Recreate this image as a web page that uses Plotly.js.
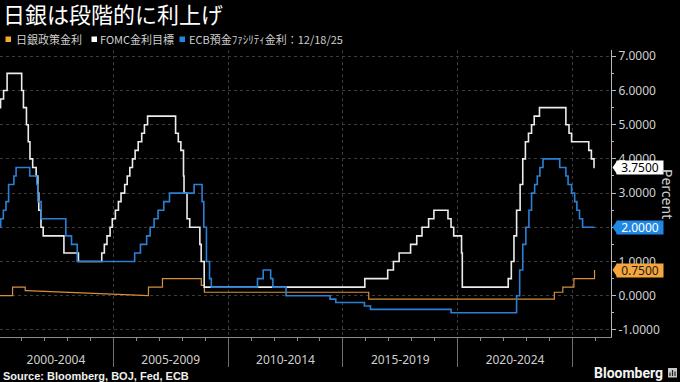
<!DOCTYPE html>
<html><head><meta charset="utf-8">
<script src="https://cdn.plot.ly/plotly-3.0.1.min.js"></script>
<style>html,body{margin:0;padding:0;background:#000;}#chart{width:680px;height:382px;}</style>
</head><body><div id="chart"></div>
<script>
// ---- data (policy rates, %, step changes) ----
const fedDates = ['2000-01-01','2000-02-02','2000-03-21','2000-05-16','2001-01-03','2001-01-31','2001-03-20','2001-04-18','2001-05-15','2001-06-27',
  '2001-08-21','2001-09-17','2001-10-02','2001-11-06','2001-12-11','2002-11-06','2003-06-25','2004-06-30','2004-08-10','2004-09-21',
  '2004-11-10','2004-12-14','2005-02-02','2005-03-22','2005-05-03','2005-06-30','2005-08-09','2005-09-20','2005-11-01','2005-12-13',
  '2006-01-31','2006-03-28','2006-05-10','2006-06-29','2007-09-18','2007-10-31','2007-12-11','2008-01-22','2008-01-30','2008-03-18',
  '2008-04-30','2008-10-08','2008-10-29','2008-12-16','2015-12-16','2016-12-14','2017-03-15','2017-06-14','2017-12-13','2018-03-21',
  '2018-06-13','2018-09-26','2018-12-19','2019-07-31','2019-09-18','2019-10-30','2020-03-03','2020-03-15','2022-03-16','2022-05-04',
  '2022-06-15','2022-07-27','2022-09-21','2022-11-02','2022-12-14','2023-02-01','2023-03-22','2023-05-03','2023-07-26','2024-09-18',
  '2024-11-07','2024-12-18','2025-09-17','2025-10-29','2025-12-10','2025-12-18'];
const fedRates = [5.5,5.75,6.0,6.5,6.0,5.5,5.0,4.5,4.0,3.75,
  3.5,3.0,2.5,2.0,1.75,1.25,1.0,1.25,1.5,1.75,
  2.0,2.25,2.5,2.75,3.0,3.25,3.5,3.75,4.0,4.25,
  4.5,4.75,5.0,5.25,4.75,4.5,4.25,3.5,3.0,2.25,
  2.0,1.5,1.0,0.25,0.5,0.75,1.0,1.25,1.5,1.75,
  2.0,2.25,2.5,2.25,2.0,1.75,1.25,0.25,0.5,1.0,
  1.75,2.5,3.25,4.0,4.5,4.75,5.0,5.25,5.5,5.0,
  4.75,4.5,4.25,4.0,3.75,3.75];

const ecbDates = ['2000-01-01','2000-02-04','2000-03-17','2000-04-28','2000-06-09','2000-09-01','2000-10-06','2001-05-11','2001-08-31','2001-09-18',
  '2001-11-09','2002-12-06','2003-03-07','2003-06-06','2005-12-06','2006-03-08','2006-06-15','2006-08-09','2006-10-11','2006-12-13',
  '2007-03-14','2007-06-13','2008-07-09','2008-11-12','2008-12-10','2009-01-21','2009-03-11','2009-04-08','2011-04-13','2011-07-13',
  '2011-11-09','2011-12-14','2012-07-11','2014-06-11','2014-09-10','2015-12-09','2016-03-16','2019-09-18','2022-07-27','2022-09-14',
  '2022-11-02','2022-12-21','2023-02-08','2023-03-22','2023-05-10','2023-06-21','2023-08-02','2023-09-20','2024-06-12','2024-09-18',
  '2024-10-23','2024-12-18','2025-02-05','2025-03-12','2025-04-23','2025-06-11','2025-12-18'];
const ecbRates = [2.0,2.25,2.5,2.75,3.25,3.5,3.75,3.5,3.25,2.75,
  2.25,1.75,1.5,1.0,1.25,1.5,1.75,2.0,2.25,2.5,
  2.75,3.0,3.25,2.75,2.0,1.0,0.5,0.25,0.5,0.75,
  0.5,0.25,0.0,-0.1,-0.2,-0.3,-0.4,-0.5,0.0,0.75,
  1.5,2.0,2.5,3.0,3.25,3.5,3.75,4.0,3.75,3.5,
  3.25,3.0,2.75,2.5,2.25,2.0,2.0];

const bojDates = ['2000-01-01','2000-08-11','2001-02-28','2001-03-19','2006-07-13','2006-07-14','2007-02-21','2008-10-31','2008-12-19','2016-02-16',
  '2024-03-19','2024-07-31','2025-01-24','2025-12-18'];
const bojRates = [0.0,0.25,0.15,0.15,0.0,0.25,0.5,0.3,0.1,-0.1,
  0.1,0.25,0.5,0.75];
const bojNoDataAfter = ['2001-03-19'];   // series has no observations until next point (drawn joined)

const seriesNames = ['日銀政策金利','FOMC金利目標','ECB預金ﾌｧｼﾘﾃｨ金利：12/18/25'];
const periodLabels = ['2000-2004','2005-2009','2010-2014','2015-2019','2020-2024'];
const periodMids = ['2002-07-02','2007-07-02','2012-07-02','2017-07-02','2022-07-02'];
const periodBounds = ['2005-01-01','2010-01-01','2015-01-01','2020-01-01','2025-01-01'];
const yTicks = [-1,0,1,2,3,4,5,6,7];

// ---- styles ----
const C_BOJ = '#d88f3e', C_FED = '#ececec', C_ECB = '#2b80d6';
const BOX_BOJ = '#f5a63d', BOX_FED = '#ffffff', BOX_ECB = '#1f88e5';
const W = 611, TOP = 50, BOT = 337;
const px = v => v / W;
const py = v => (BOT - v) / (BOT - TOP);

function steps(dates, vals, joinAfter) {
  const x = [dates[0]], y = [vals[0]];
  for (let i = 1; i < dates.length; i++) {
    if (!joinAfter.includes(dates[i - 1])) { x.push(dates[i]); y.push(vals[i - 1]); }
    x.push(dates[i]); y.push(vals[i]);
  }
  return {x, y};
}
const bojLine = steps(bojDates, bojRates, bojNoDataAfter);

const yearTicks = [];
for (let yr = 2001; yr <= 2026; yr++) yearTicks.push(yr + '-01-01');

const xRange = ['2000-01-24', '2026-09-06'];
const yRange = [-1.208, 7.184];

const traces = [
  {x: bojLine.x, y: bojLine.y, mode: 'lines', line: {color: C_BOJ, width: 1.2, shape: 'linear'}, hoverinfo: 'skip', showlegend: false},
  {x: fedDates, y: fedRates, mode: 'lines', line: {color: C_FED, width: 1.6, shape: 'hv'}, hoverinfo: 'skip', showlegend: false},
  {x: ecbDates, y: ecbRates, mode: 'lines', line: {color: C_ECB, width: 1.6, shape: 'hv'}, hoverinfo: 'skip', showlegend: false},
  {x: [], y: [], xaxis: 'x2', yaxis: 'y', mode: 'lines', hoverinfo: 'skip', showlegend: false}
];

const lastVals = [
  {v: bojRates[bojRates.length - 1], bg: BOX_BOJ, fg: '#1a1a1a'},
  {v: fedRates[fedRates.length - 1], bg: BOX_FED, fg: '#000000'},
  {v: ecbRates[ecbRates.length - 1], bg: BOX_ECB, fg: '#ffffff'}
];
// a tick label that sits exactly under a last-value box is hidden by it in the reference
const yTickText = yTicks.map(t => lastVals.some(o => o.v === t) ? '' : t.toFixed(4));

const annotations = [];
const shapes = [];
lastVals.forEach(o => {
  annotations.push({xref: 'paper', yref: 'y', x: 1 + px(5), y: o.v, xanchor: 'left', yanchor: 'middle',
    text: o.v.toFixed(4), showarrow: false, bgcolor: o.bg, borderpad: 0, width: 46, height: 13,
    font: {family: 'Noto Sans, sans-serif', size: 12, color: o.fg}});
  shapes.push({type: 'path', xref: 'paper', xsizemode: 'pixel', xanchor: 1, yref: 'y', ysizemode: 'pixel', yanchor: o.v,
    path: 'M 1.5 0 L 6 6.5 L 6 -6.5 Z', fillcolor: o.bg, line: {width: 0}});
});

// legend
const legendItems = [
  {sq: 5.5, tx: 14.5, c: BOX_BOJ, name: seriesNames[0]},
  {sq: 91.5, tx: 99, c: '#ffffff', name: seriesNames[1]},
  {sq: 179.5, tx: 187.5, c: BOX_ECB, name: seriesNames[2]}
];
legendItems.forEach(it => {
  shapes.push({type: 'rect', xref: 'paper', yref: 'paper', x0: px(it.sq), x1: px(it.sq + 5.5), y0: py(42), y1: py(36.5),
    fillcolor: it.c, line: {width: 0}});
  annotations.push({xref: 'paper', yref: 'paper', x: px(it.tx), y: py(39.5), xanchor: 'left', yanchor: 'middle',
    text: it.name, showarrow: false, borderpad: 0,
    font: {family: 'Noto Sans CJK JP, sans-serif', size: 11, color: '#cfcfcf'}});
});

annotations.push({xref: 'paper', yref: 'paper', x: px(668), y: py(194), xanchor: 'center', yanchor: 'middle',
  textangle: 90, text: 'Percent', showarrow: false, borderpad: 0,
  font: {family: 'Noto Sans, sans-serif', size: 14, color: '#d0d0d0'}});
annotations.push({xref: 'paper', yref: 'paper', x: px(2), y: py(375.5), xanchor: 'left', yanchor: 'middle', showarrow: false,
  text: '<b>Source: Bloomberg, BOJ, Fed, ECB</b>', borderpad: 0,
  font: {family: 'Liberation Sans, Arial, sans-serif', size: 11, color: '#f0f0f0'}});
annotations.push({xref: 'paper', yref: 'paper', x: px(593), y: py(373), xanchor: 'left', yanchor: 'middle', showarrow: false,
  text: '<b>Bloomberg</b>', borderpad: 0,
  font: {family: 'Roboto, sans-serif', size: 14, color: '#f4f4f4'}});
shapes.push({type: 'rect', xref: 'paper', yref: 'paper', x0: px(668), x1: px(677), y0: py(377.5), y1: py(368),
  fillcolor: '#c8c8c8', line: {width: 0}});
[[670, 376, 372.5], [672.5, 376, 370], [675, 376, 371.5]].forEach(b => {
  shapes.push({type: 'line', xref: 'paper', yref: 'paper', x0: px(b[0]), x1: px(b[0]), y0: py(b[1]), y1: py(b[2]),
    line: {color: '#222', width: 1.2}});
});

const layout = {
  width: 680, height: 382,
  paper_bgcolor: '#000', plot_bgcolor: '#000',
  margin: {l: 0, r: 680 - W, t: TOP, b: 382 - BOT, pad: 0},
  showlegend: false,
  hovermode: false,
  title: {text: '日銀は段階的に利上げ', xref: 'container', yref: 'container', x: 3 / 680, xanchor: 'left',
    y: 1 - 15 / 382, yanchor: 'middle',
    font: {family: 'Noto Sans CJK JP, sans-serif', size: 22, color: '#ffffff'}},
  xaxis: {
    type: 'date', range: xRange, autorange: false, automargin: false,
    tickmode: 'array', tickvals: periodMids, ticktext: periodLabels,
    ticks: 'outside', ticklen: 12, tickcolor: 'rgba(0,0,0,0)',
    tickfont: {family: 'Noto Sans, sans-serif', size: 12, color: '#cfcfcf'},
    showgrid: false, zeroline: false,
    showline: true, linecolor: '#8c8c8c', linewidth: 1,
    minor: {tickmode: 'array', tickvals: yearTicks, ticks: 'outside', ticklen: 3, tickcolor: '#8c8c8c', showgrid: false}
  },
  xaxis2: {
    type: 'date', overlaying: 'x', matches: 'x', anchor: 'y', side: 'bottom', range: xRange, autorange: false, automargin: false,
    tickmode: 'array', tickvals: periodBounds, showticklabels: false,
    ticks: 'outside', ticklen: 29, tickcolor: '#6e6e6e', tickwidth: 1,
    showgrid: true, gridcolor: '#3c3c3c', griddash: 'dot', gridwidth: 1,
    zeroline: false, showline: false
  },
  yaxis: {
    side: 'right', range: yRange, autorange: false, automargin: false,
    tickmode: 'array', tickvals: yTicks, ticktext: yTickText,
    ticks: 'outside', ticklen: 4, tickcolor: '#b8b8b8',
    tickfont: {family: 'Noto Sans, sans-serif', size: 12, color: '#d0d0d0'},
    showgrid: true, gridcolor: '#3c3c3c', griddash: 'dot', gridwidth: 1,
    zeroline: false, showline: true, linecolor: '#b8b8b8', linewidth: 1,
    minor: {dtick: 0.5, tick0: 0, ticks: 'outside', ticklen: 2, tickcolor: '#b8b8b8', showgrid: false}
  },
  annotations: annotations,
  shapes: shapes
};

Plotly.newPlot('chart', traces, layout, {displayModeBar: false, staticPlot: true});
</script></body></html>
